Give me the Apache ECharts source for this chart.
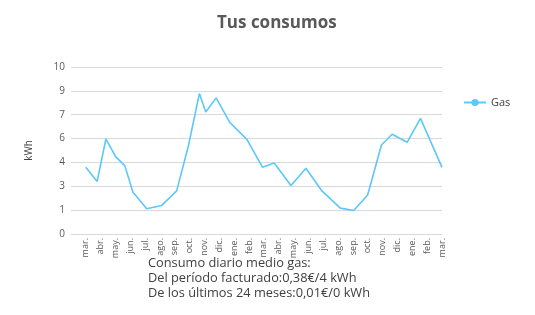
<!DOCTYPE html>
<html>
<head>
<meta charset="utf-8">
<title>Tus consumos</title>
<script src="https://cdn.jsdelivr.net/npm/echarts@6/dist/echarts.min.js"></script>
<style>
	html, body { margin: 0; padding: 0; background: #fff; }
	#main { width: 535px; height: 315px; }
</style>
</head>
<body>
<div id="main"></div>
<script>
// etiquetas del eje x (una por mes)
var monthLabels = ['mar.','abr.','may.','jun.','jul.','ago.','sep.','oct.','nov.','dic.','ene.','feb.',
	'mar.','abr.','may.','jun.','jul.','ago.','sep.','oct.','nov.','dic.','ene.','feb.','mar.'];
// posicion de cada lectura (en meses desde el primer mar.)
var readingPos = [0, 0.76, 1.35, 2.01, 2.63, 3.17, 4.10, 5.11, 6.12, 6.91, 7.65, 8.08, 8.78, 9.72,
	10.85, 11.90, 12.69, 13.82, 14.83, 15.91, 17.15, 18.05, 18.99, 19.92, 20.64, 21.65, 22.55, 24];
// consumo de gas kWh
var gasKwh = [4.00, 3.14, 5.69, 4.63, 4.08, 2.51, 1.51, 1.71, 2.58, 5.27, 8.41, 7.31, 8.15, 6.66,
	5.67, 4.00, 4.25, 2.90, 3.94, 2.58, 1.55, 1.41, 2.34, 5.33, 5.97, 5.49, 6.92, 3.99];
// eje y: 0..10 en 7 pasos (etiquetas redondeadas)
var yMax = 10;
var ySteps = 7;
var summaryLines = ['Consumo diario medio gas:', 'Del período facturado:0,38€/4 kWh', 'De los últimos 24 meses:0,01€/0 kWh'];

var gasData = [];
for (var i = 0; i < gasKwh.length; i++) {
	gasData.push([readingPos[i], gasKwh[i]]);
}

var myChart = echarts.init(document.getElementById('main'));
var option = {
	animation: false,
	textStyle: { fontFamily: 'Open Sans' },
	title: [
		{
			text: 'Tus consumos',
			left: 212,
			top: 10,
			textStyle: { color: '#595959', fontSize: 17, fontWeight: 'bold', fontFamily: 'Open Sans' }
		},
		{
			text: summaryLines.join('\n'),
			left: 143,
			top: 251,
			textStyle: { color: '#404040', fontSize: 12.8, fontWeight: 'normal', lineHeight: 15, fontFamily: 'Open Sans' }
		}
	],
	legend: {
		data: ['Gas'],
		left: 458,
		top: 92,
		itemWidth: 22,
		itemHeight: 9,
		itemGap: 5,
		textStyle: { color: '#404040', fontSize: 11 }
	},
	grid: {
		left: 71,
		right: 93,
		top: 67,
		bottom: 81
	},
	xAxis: {
		type: 'value',
		min: -1,
		max: monthLabels.length - 1,
		interval: 1,
		axisLine: { show: true, lineStyle: { color: '#d9d9d9' } },
		axisTick: { show: false },
		splitLine: { show: false },
		axisLabel: {
			rotate: 90,
			margin: 4,
			fontSize: 9,
			color: '#595959',
			formatter: function (v) {
				return v >= 0 ? monthLabels[Math.round(v)] : '';
			}
		}
	},
	yAxis: {
		type: 'value',
		name: 'kWh',
		nameLocation: 'middle',
		nameGap: 37,
		nameRotate: 90,
		nameTextStyle: { color: '#404040', fontSize: 10 },
		min: 0,
		max: yMax,
		interval: yMax / ySteps,
		axisLine: { show: false },
		axisTick: { show: false },
		splitLine: { lineStyle: { color: '#d9d9d9', width: 1 } },
		axisLabel: {
			margin: 6,
			fontSize: 10,
			color: '#595959',
			formatter: function (v) { return Math.round(v); }
		}
	},
	series: [
		{
			name: 'Gas',
			type: 'line',
			data: gasData,
			symbol: 'circle',
			symbolSize: 8,
			showSymbol: false,
			itemStyle: { color: '#5cc8f8' },
			lineStyle: { color: '#5cc8f8', width: 1.6 }
		}
	]
};
myChart.setOption(option);
</script>
</body>
</html>
